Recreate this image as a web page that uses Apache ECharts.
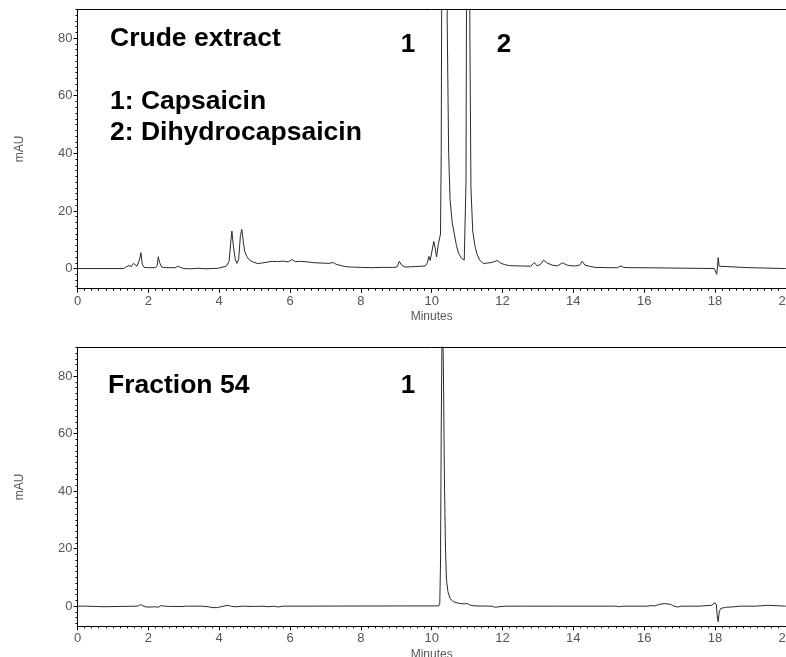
<!DOCTYPE html>
<html>
<head>
<meta charset="utf-8">
<script src="https://cdn.jsdelivr.net/npm/echarts@6/dist/echarts.min.js"></script>
<style>
html,body{margin:0;padding:0;background:#fff;}
#chart{width:786px;height:657px;}
</style>
</head>
<body>
<div id="chart"></div>
<script>
// ---- Data ----
const crudeTime = [0,1.30,1.38,1.45,1.52,1.58,1.62,1.68,1.72,1.76,1.79,1.83,1.88,2.0,2.2,2.25,2.28,2.32,2.38,2.5,2.75,2.83,2.9,3.0,3.2,3.4,3.6,3.8,3.98,4.02,4.2,4.28,4.33,4.36,4.40,4.45,4.50,4.55,4.60,4.64,4.68,4.72,4.78,4.85,4.95,5.1,5.2,5.35,5.5,5.65,5.8,5.95,6.05,6.15,6.3,6.5,6.7,6.9,7.1,7.22,7.3,7.45,7.6,7.8,8.0,8.3,8.6,8.9,9.02,9.09,9.15,9.25,9.4,9.55,9.7,9.82,9.88,9.92,9.96,10.0,10.06,10.10,10.14,10.19,10.22,10.25,10.27,10.29,10.33,10.36,10.40,10.44,10.48,10.52,10.58,10.64,10.70,10.76,10.85,10.92,10.95,10.97,10.99,11.02,11.05,11.08,11.11,11.16,11.22,11.28,11.35,11.46,11.55,11.65,11.75,11.85,11.95,12.05,12.2,12.5,12.8,12.9,12.98,13.08,13.16,13.25,13.4,13.55,13.7,13.8,13.9,14.05,14.18,14.25,14.33,14.45,14.6,15.0,15.25,15.34,15.42,15.6,15.85,15.9,17.98,18.03,18.05,18.07,18.09,18.12,18.16,18.95,19.0,20.0];
const crudeMAU = [0,0,0.6,1.0,0.7,1.8,2.3,0.8,1.0,3.5,5.5,1.5,0.4,0.3,0.3,1.0,4.1,2.0,0.5,0.3,0.3,0.8,0.4,0.0,-0.1,0.1,-0.1,0.0,0.1,0.7,0.8,2.5,9.5,13.0,8.0,3.5,1.8,3.0,11.5,13.6,9.5,6.0,4.2,3.0,2.3,1.7,1.9,2.2,2.5,2.4,2.6,2.3,3.1,2.4,2.5,2.3,2.0,1.9,1.8,2.1,1.5,1.0,0.6,0.5,0.4,0.3,0.4,0.4,0.5,2.5,1.2,0.5,0.6,0.7,0.8,0.9,2.0,4.2,2.8,3.0,9.4,7.0,4.0,8.6,8.2,12,40,120,350,400,250,85,40,24,16,12,8,5.3,3.5,2.9,3.2,30,120,250,200,80,28,13,8,5,3.0,1.7,1.9,2.0,2.3,2.8,1.9,1.4,1.0,0.9,0.8,2.1,0.9,1.5,2.9,2.0,1.2,0.9,2.0,1.3,1.0,0.9,1.2,2.5,1.2,0.8,0.4,0.3,0.3,0.9,0.4,0.3,0.3,0.0,0.0,-0.5,-2.0,0.5,3.8,0.8,0.3,0.3,0.0,0.0];

const fracTime = [0,0.15,0.2,0.25,0.5,0.75,0.8,1.7,1.78,1.85,1.95,2.1,2.2,2.27,2.36,2.45,2.6,2.95,3.0,3.1,3.5,3.7,3.8,3.95,4.05,4.25,4.35,4.5,4.65,5.0,5.05,5.2,5.4,5.55,5.65,5.8,10.2,10.23,10.25,10.27,10.29,10.31,10.33,10.36,10.39,10.42,10.46,10.52,10.62,10.8,10.92,11.0,11.1,11.2,11.7,11.8,11.9,12.1,12.6,12.65,12.7,13.4,13.45,13.5,15.05,15.1,15.2,15.3,15.4,16.1,16.2,16.3,16.45,16.6,16.75,16.85,16.95,17.05,17.45,17.5,17.55,17.9,18.0,18.04,18.06,18.09,18.12,18.16,18.3,18.55,18.7,19.15,19.2,19.5,19.55,20];
const fracMAU = [0,0,-0.2,0,-0.1,-0.2,0,0,0.6,0.1,-0.3,-0.3,-0.2,-0.4,0.2,0.0,-0.1,-0.1,-0.3,0,0,-0.2,-0.5,-0.5,-0.2,0.3,-0.1,-0.2,0.0,-0.1,-0.3,0,-0.2,0,-0.3,0,0.1,1,15,60,92,95,85,45,20,9,5,2.7,1.5,0.9,0.8,0.9,0.3,0.1,0,-0.4,-0.2,0,0,-0.3,0,0,-0.2,0,0,0.2,0,-0.2,0,0,0.2,0.1,0.7,0.9,0.6,0,-0.3,0,0,0.2,0,0.3,1.2,0.5,-3,-5.4,-2,-0.8,-0.4,-0.2,0,0,0.3,0.3,0,0];

const yMajorTicks = [0,20,40,60,80];
const yMinorTicks = [-6,-4,-2,0,2,4,6,8,10,12,14,16,18,20,22,24,26,28,30,32,34,36,38,40,42,44,46,48,50,52,54,56,58,60,62,64,66,68,70,72,74,76,78,80,82,84,86,88,90];
const xRange = [0, 20];
const yRange = [-7, 90];

const crudeLabels = ['Crude extract', '1: Capsaicin', '2: Dihydrocapsaicin'];
const fracLabels = ['Fraction 54'];
const peakLabels = ['1', '2'];

// ---- Chart ----
const FONT = "'Liberation Sans', Arial, Helvetica, sans-serif";
const zip = (t, v) => t.map((x, i) => [x, v[i]]);
const chart = echarts.init(document.getElementById('chart'), null, {renderer: 'canvas'});

const grids = [
  {left: 77.5, top: 9.3, width: 708.3, height: 279.4, outerBoundsMode: 'none', containLabel: false},
  {left: 77.5, top: 347.3, width: 708.3, height: 279, outerBoundsMode: 'none', containLabel: false}
];

function xAxes(g) {
  return [
    {
      type: 'value', gridIndex: g, position: 'bottom', min: xRange[0], max: xRange[1], interval: 2,
      name: 'Minutes', nameLocation: 'middle', nameGap: 22,
      nameTextStyle: {fontFamily: FONT, fontSize: 12, color: '#555'},
      axisLine: {show: true, onZero: false, lineStyle: {color: '#000', width: 1}},
      axisTick: {show: true, length: 4, lineStyle: {color: '#000'}},
      minorTick: {show: true, splitNumber: 10, length: 2, lineStyle: {color: '#000'}},
      axisLabel: {fontFamily: FONT, fontSize: 13, color: '#555', margin: 6, showMaxLabel: true},
      splitLine: {show: false}, minorSplitLine: {show: false}
    },
    {
      type: 'value', gridIndex: g, position: 'top', min: xRange[0], max: xRange[1],
      axisLine: {show: true, onZero: false, lineStyle: {color: '#000', width: 1}},
      axisTick: {show: false}, axisLabel: {show: false}, splitLine: {show: false}
    }
  ];
}
function yAxes(g) {
  return [
    {
      type: 'value', gridIndex: g, position: 'left', min: yRange[0], max: yRange[1],
      name: 'mAU', nameLocation: 'middle', nameGap: 52,
      nameTextStyle: {fontFamily: FONT, fontSize: 12, color: '#555'},
      axisLine: {show: true, onZero: false, lineStyle: {color: '#000', width: 1}},
      axisTick: {show: true, length: 4, customValues: yMajorTicks, lineStyle: {color: '#000'}},
      axisLabel: {fontFamily: FONT, fontSize: 13, color: '#555', margin: 5, customValues: yMajorTicks},
      splitLine: {show: false}
    },
    {
      type: 'value', gridIndex: g, position: 'left', offset: 0, min: yRange[0], max: yRange[1],
      axisLine: {show: false},
      axisTick: {show: true, length: 2, customValues: yMinorTicks, lineStyle: {color: '#000'}},
      axisLabel: {show: false, customValues: yMinorTicks},
      splitLine: {show: false}
    }
  ];
}

const boldText = (text, x, y) => ({
  type: 'text', x: x, y: y, silent: true,
  style: {text: text, fill: '#000', font: "bold 26.5px " + FONT, textVerticalAlign: 'middle'}
});
const peakText = (text, x, y) => ({
  type: 'text', x: x, y: y, silent: true,
  style: {text: text, fill: '#000', font: "bold 26px " + FONT, textAlign: 'center', textVerticalAlign: 'middle'}
});

const option = {
  animation: false,
  backgroundColor: '#fff',
  grid: grids,
  xAxis: [].concat(xAxes(0), xAxes(1)),
  yAxis: [].concat(yAxes(0), yAxes(1)),
  series: [
    {type: 'line', xAxisIndex: 0, yAxisIndex: 0, data: zip(crudeTime, crudeMAU), showSymbol: false,
     lineStyle: {color: '#2a2a2a', width: 1}, clip: true},
    {type: 'line', xAxisIndex: 2, yAxisIndex: 2, data: zip(fracTime, fracMAU), showSymbol: false,
     lineStyle: {color: '#2a2a2a', width: 1}, clip: true}
  ],
  graphic: [
    boldText(crudeLabels[0], 110, 39),
    boldText(crudeLabels[1], 110, 102),
    boldText(crudeLabels[2], 110, 133),
    peakText(peakLabels[0], 408, 45),
    peakText(peakLabels[1], 504, 45),
    boldText(fracLabels[0], 108, 386),
    peakText(peakLabels[0], 408, 386)
  ]
};
chart.setOption(option);
</script>
</body>
</html>
